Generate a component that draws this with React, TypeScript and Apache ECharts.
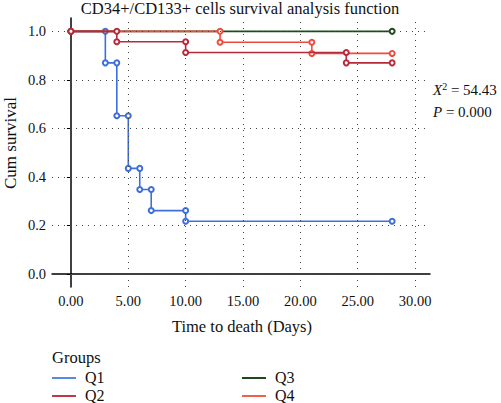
import React, { useEffect, useRef } from "react";
import * as echarts from "echarts";

const groups = ["Q1", "Q2", "Q3", "Q4"];
const q1Times = [0, 3, 4, 5, 6, 7, 10, 28];
const q1Surv = [1.0, 0.870, 0.652, 0.435, 0.348, 0.261, 0.217, 0.217];
const q2Times = [0, 4, 10, 24, 28];
const q2Surv = [1.0, 0.957, 0.913, 0.870, 0.870];
const q3Times = [0, 28];
const q3Surv = [1.0, 1.0];
const q4Times = [0, 13, 21, 28];
const q4Surv = [1.0, 0.955, 0.909, 0.909];
const xTicks = [0, 5, 10, 15, 20, 25, 30];
const yTicks = [0, 0.2, 0.4, 0.6, 0.8, 1.0];
const colors: Record<string, string> = { Q1: "#3d6fdb", Q2: "#b8293b", Q3: "#1c4a1c", Q4: "#ef4b3a" };
const legendColors: Record<string, string> = { Q1: "#5a88e6", Q2: "#c0394a", Q3: "#1c4a1c", Q4: "#f0614b" };

const FONT = "'Liberation Serif', 'DejaVu Serif', serif";

function stepPoints(times: number[], surv: number[]) {
  const pts: number[][] = [[times[0], surv[0]]];
  for (let i = 1; i < times.length; i++) {
    pts.push([times[i], surv[i - 1]]);
    if (surv[i] !== surv[i - 1]) pts.push([times[i], surv[i]]);
  }
  return pts;
}

export default function App() {
  const ref = useRef<HTMLDivElement>(null);
  useEffect(() => {
    if (!ref.current) return;
    const chart = echarts.init(ref.current, undefined, { renderer: "svg" });
    const mkSeries = (name: string, times: number[], surv: number[], z: number) => ({
      name,
      type: "line",
      data: stepPoints(times, surv),
      symbol: "emptyCircle",
      symbolSize: 5,
      showSymbol: true,
      z,
      lineStyle: { color: colors[name], width: 1.6 },
      itemStyle: { color: colors[name], borderWidth: 1.6 },
      emphasis: { disabled: true },
    });
    const gridSeries = {
      name: "grid",
      type: "line",
      data: [],
      silent: true,
      z: 1,
      markLine: {
        silent: true,
        symbol: "none",
        label: { show: false },
        lineStyle: { color: "#444", type: [1, 5], width: 1 },
        data: [
          ...xTicks.map((v) => ({ xAxis: v })),
          ...yTicks.map((v) => ({ yAxis: v })),
        ],
      },
    };
    const legendPos = [
      { x: 52, y: 377 },
      { x: 52, y: 395 },
      { x: 242, y: 377 },
      { x: 242, y: 395 },
    ];
    const legendGraphics: any[] = [];
    groups.forEach((g, i) => {
      const p = legendPos[i];
      legendGraphics.push({
        type: "line",
        shape: { x1: p.x, y1: p.y + 1, x2: p.x + 24, y2: p.y + 1 },
        style: { stroke: legendColors[g], lineWidth: 2 },
      });
      legendGraphics.push({
        type: "text",
        x: p.x + 33,
        y: p.y,
        style: {
          text: g,
          fontFamily: FONT,
          fontSize: 16,
          lineHeight: 14,
          fill: "#111",
          verticalAlign: "middle",
        },
      });
    });
    chart.setOption({
      animation: false,
      grid: { left: 52, top: 18, right: 71, bottom: 116 },
      xAxis: {
        type: "value",
        min: -1.65,
        max: 31.3,
        axisLine: { show: true, lineStyle: { color: "#000", width: 1.5 } },
        axisTick: { show: false },
        splitLine: { show: false },
        axisLabel: {
          customValues: xTicks,
          formatter: (v: number) => v.toFixed(2),
          color: "#111",
          fontFamily: FONT,
          fontSize: 14.5,
          margin: 6,
        },
      },
      yAxis: {
        type: "value",
        min: -0.054,
        max: 1.055,
        axisLine: { show: true, lineStyle: { color: "#000", width: 1.5 } },
        axisTick: { show: true, customValues: yTicks, length: 4, lineStyle: { color: "#000" } },
        splitLine: { show: false },
        axisLabel: {
          customValues: yTicks,
          formatter: (v: number) => v.toFixed(1),
          color: "#111",
          fontFamily: FONT,
          fontSize: 14.5,
          margin: 6,
        },
      },
      graphic: [
        {
          type: "text",
          x: 240,
          y: 8,
          style: {
            text: "CD34+/CD133+ cells survival analysis function",
            fontFamily: FONT,
            fontSize: 16.5,
            fill: "#111",
            align: "center",
            verticalAlign: "middle",
          },
        },
        {
          type: "text",
          x: 10,
          y: 143,
          rotation: Math.PI / 2,
          style: {
            text: "Cum survival",
            fontFamily: FONT,
            fontSize: 17,
            fill: "#111",
            align: "center",
            verticalAlign: "middle",
          },
        },
        {
          type: "text",
          x: 242,
          y: 326,
          style: {
            text: "Time to death (Days)",
            fontFamily: FONT,
            fontSize: 16.5,
            fill: "#111",
            align: "center",
            verticalAlign: "middle",
          },
        },
        {
          type: "text",
          x: 433,
          y: 90,
          style: {
            text: "{i|X}{s|2}{n| = 54.43}",
            verticalAlign: "middle",
            rich: {
              i: { fontFamily: FONT, fontSize: 15, fontStyle: "italic", fill: "#111" },
              s: { fontFamily: FONT, fontSize: 10, fill: "#111", verticalAlign: "top", padding: [0, 0, 8, 0] },
              n: { fontFamily: FONT, fontSize: 15, fill: "#111" },
            },
          },
        },
        {
          type: "text",
          x: 433,
          y: 112,
          style: {
            text: "{i|P}{n| = 0.000}",
            verticalAlign: "middle",
            rich: {
              i: { fontFamily: FONT, fontSize: 15, fontStyle: "italic", fill: "#111" },
              n: { fontFamily: FONT, fontSize: 15, fill: "#111" },
            },
          },
        },
        {
          type: "text",
          x: 52,
          y: 357,
          style: {
            text: "Groups",
            fontFamily: FONT,
            fontSize: 16.5,
            fill: "#111",
            verticalAlign: "middle",
          },
        },
        ...legendGraphics,
      ],
      series: [
        gridSeries,
        mkSeries("Q1", q1Times, q1Surv, 2),
        mkSeries("Q3", q3Times, q3Surv, 3),
        mkSeries("Q4", q4Times, q4Surv, 4),
        mkSeries("Q2", q2Times, q2Surv, 5),
      ],
    });
    return () => chart.dispose();
  }, []);
  return (
    <div
      ref={ref}
      style={{ position: "fixed", left: 0, top: 0, width: 501, height: 403, background: "#fff" }}
    />
  );
}
